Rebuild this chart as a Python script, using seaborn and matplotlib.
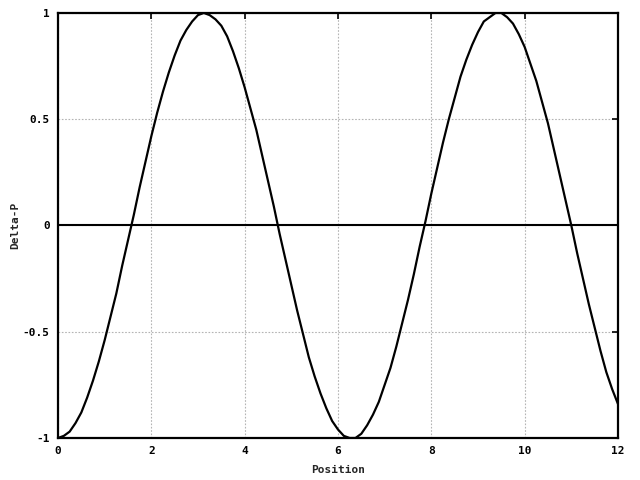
import matplotlib
matplotlib.use('Agg')
import matplotlib.pyplot as plt
import seaborn as sns
import pandas as pd

# values
position = [0.0, 0.125, 0.25, 0.375, 0.5, 0.625, 0.75, 0.875,
            1.0, 1.125, 1.25, 1.375, 1.5, 1.625, 1.75, 1.875,
            2.0, 2.125, 2.25, 2.375, 2.5, 2.625, 2.75, 2.875,
            3.0, 3.125, 3.25, 3.375, 3.5, 3.625, 3.75, 3.875,
            4.0, 4.125, 4.25, 4.375, 4.5, 4.625, 4.75, 4.875,
            5.0, 5.125, 5.25, 5.375, 5.5, 5.625, 5.75, 5.875,
            6.0, 6.125, 6.25, 6.375, 6.5, 6.625, 6.75, 6.875,
            7.0, 7.125, 7.25, 7.375, 7.5, 7.625, 7.75, 7.875,
            8.0, 8.125, 8.25, 8.375, 8.5, 8.625, 8.75, 8.875,
            9.0, 9.125, 9.25, 9.375, 9.5, 9.625, 9.75, 9.875,
            10.0, 10.125, 10.25, 10.375, 10.5, 10.625, 10.75, 10.875,
            11.0, 11.125, 11.25, 11.375, 11.5, 11.625, 11.75, 11.875,
            12.0]
delta_p = [-1.00, -0.99, -0.97, -0.93, -0.88, -0.81, -0.73, -0.64,
           -0.54, -0.43, -0.32, -0.19, -0.07, 0.05, 0.18, 0.30,
           0.42, 0.53, 0.63, 0.72, 0.80, 0.87, 0.92, 0.96,
           0.99, 1.00, 0.99, 0.97, 0.94, 0.89, 0.82, 0.74,
           0.65, 0.55, 0.45, 0.33, 0.21, 0.09, -0.04, -0.16,
           -0.28, -0.40, -0.51, -0.62, -0.71, -0.79, -0.86, -0.92,
           -0.96, -0.99, -1.00, -1.00, -0.98, -0.94, -0.89, -0.83,
           -0.75, -0.67, -0.57, -0.46, -0.35, -0.23, -0.10, 0.02,
           0.15, 0.27, 0.39, 0.50, 0.60, 0.70, 0.78, 0.85,
           0.91, 0.96, 0.98, 1.00, 1.00, 0.98, 0.95, 0.90,
           0.84, 0.76, 0.68, 0.58, 0.48, 0.36, 0.24, 0.12,
           -0.00, -0.13, -0.25, -0.37, -0.48, -0.59, -0.69, -0.77,
           -0.84]
x_ticks = [0, 2, 4, 6, 8, 10, 12]
y_ticks = [-1, -0.5, 0, 0.5, 1]
y_labels = ['-1', '-0.5', '0', '0.5', '1']

df = pd.DataFrame({'Position': position, 'Delta-P': delta_p})

sns.set_style('white')
plt.rcParams['font.family'] = ['DejaVu Sans Mono']
plt.rcParams['font.weight'] = 'bold'

fig = plt.figure(figsize=(6.4, 4.8), dpi=100)
ax = fig.add_axes([0.0906, 0.0875, 0.875, 0.8855])

# zero axis
ax.axhline(0, color='black', lw=1.5, zorder=2)
sns.lineplot(data=df, x='Position', y='Delta-P', color='black', lw=1.6, ax=ax, zorder=3)

ax.set_xlim(0, 12)
ax.set_ylim(-1, 1)
ax.set_xticks(x_ticks)
ax.set_xticklabels([str(t) for t in x_ticks])
ax.set_yticks(y_ticks)
ax.set_yticklabels(y_labels)
ax.grid(True, color='#b4b4b4', ls=(0, (1.5, 1.5)), lw=0.8)
ax.tick_params(direction='in', length=4, width=1.2, top=True, right=True,
               labelsize=8, pad=6, colors='black')
for lab in ax.get_xticklabels() + ax.get_yticklabels():
    lab.set_fontweight('bold')
for sp in ax.spines.values():
    sp.set_linewidth(1.6)
    sp.set_color('black')

ax.set_xlabel('Position', fontsize=8, fontweight='bold', labelpad=6)
ax.set_ylabel('Delta-P', fontsize=8, fontweight='bold', labelpad=2)

fig.savefig('out.png', dpi=100)
